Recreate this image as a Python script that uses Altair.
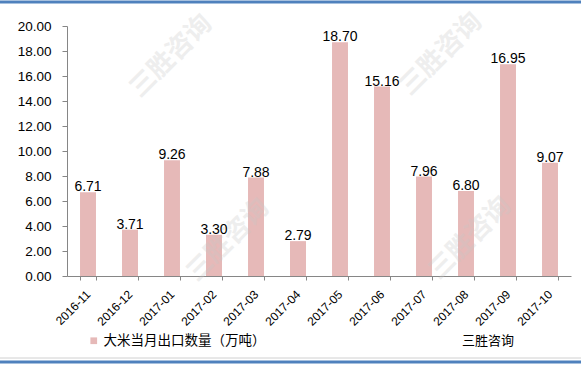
import altair as alt
import pandas as pd

months = ["2016-11", "2016-12", "2017-01", "2017-02", "2017-03", "2017-04",
          "2017-05", "2017-06", "2017-07", "2017-08", "2017-09", "2017-10"]
values = [6.71, 3.71, 9.26, 3.30, 7.88, 2.79, 18.70, 15.16, 7.96, 6.80, 16.95, 9.07]
series_name = "大米当月出口数量（万吨）"
source_text = "三胜咨询"
y_ticks = [0, 2, 4, 6, 8, 10, 12, 14, 16, 18, 20]

df = pd.DataFrame({"月份": months, "数量": values, "系列": [series_name] * len(months)})

FONT = "Liberation Sans"
CJK = "Noto Sans CJK SC"
BAR = "#E6B9B8"

x_enc = alt.X("月份:N", sort=months, title=None,
              scale=alt.Scale(paddingInner=0.62, paddingOuter=0.31),
              axis=alt.Axis(labelAngle=315, labelAlign="right", labelBaseline="middle",
                            labelFont=FONT, labelFontSize=12, labelColor="#000000",
                            labelPadding=12, tickBand="extent", tickSize=4,
                            labelOverlap=False,
                            tickColor="#868686", domainColor="#868686", grid=False))
y_enc = alt.Y("数量:Q", title=None,
              scale=alt.Scale(domain=[0, 20], nice=False),
              axis=alt.Axis(values=y_ticks, format=".2f", labelFont=FONT, labelFontSize=13.5,
                            labelColor="#000000", labelPadding=11, tickSize=5,
                            labelOverlap=False, labelFlush=False,
                            tickColor="#868686", domainColor="#868686", grid=False))

base = alt.Chart(df)

bars = base.mark_bar(color=BAR).encode(
    x=x_enc, y=y_enc,
    color=alt.Color("系列:N", scale=alt.Scale(range=[BAR]),
                    legend=alt.Legend(title=None, orient="none", legendX=20, legendY=308,
                                      symbolType="square", symbolSize=45, symbolStrokeWidth=0,
                                      labelFont=CJK, labelFontSize=13.5, labelColor="#000000",
                                      labelOffset=3, labelLimit=400, padding=0)),
)

labels = base.mark_text(font=FONT, fontSize=14, color="#000000", baseline="alphabetic", dy=-1).encode(
    x=x_enc, y=y_enc, text=alt.Text("数量:Q", format=".2f"))

wm_pos = [(104, 30), (374, 28), (161, 214), (403, 212)]
watermarks = [
    alt.Chart(pd.DataFrame({"t": [source_text]})).mark_text(
        font=CJK, fontSize=26, fontWeight="bold", color="#c8c8c8", opacity=0.3, angle=315,
        align="center", baseline="middle").encode(
        x=alt.value(px), y=alt.value(py), text="t:N")
    for px, py in wm_pos
]

src = alt.Chart(pd.DataFrame({"t": [source_text]})).mark_text(
    font=CJK, fontSize=13, color="#000000", align="left", baseline="middle").encode(
    x=alt.value(395), y=alt.value(315), text="t:N")

top_line = alt.Chart(pd.DataFrame({"a": [0]})).mark_rule(color="#4F81BD", strokeWidth=3).encode(
    x=alt.value(-67), x2=alt.value(514), y=alt.value(-24))
bottom_line = alt.Chart(pd.DataFrame({"a": [0]})).mark_rule(color="#4F81BD", strokeWidth=3).encode(
    x=alt.value(-67), x2=alt.value(514), y=alt.value(336))
bottom_thin = alt.Chart(pd.DataFrame({"a": [0]})).mark_rule(color="#d0d0d0", strokeWidth=1).encode(
    x=alt.value(-67), x2=alt.value(514), y=alt.value(332))

chart = alt.layer(bars, *watermarks, labels, src, bottom_thin, top_line, bottom_line).properties(
    width=504, height=250,
    autosize=alt.AutoSizeParams(type="none"),
    padding={"left": 67, "top": 26, "right": 10, "bottom": 91},
    background="#ffffff",
).configure_view(stroke=None)

chart.save("out.html", embed_options={"renderer": "svg", "actions": False})
